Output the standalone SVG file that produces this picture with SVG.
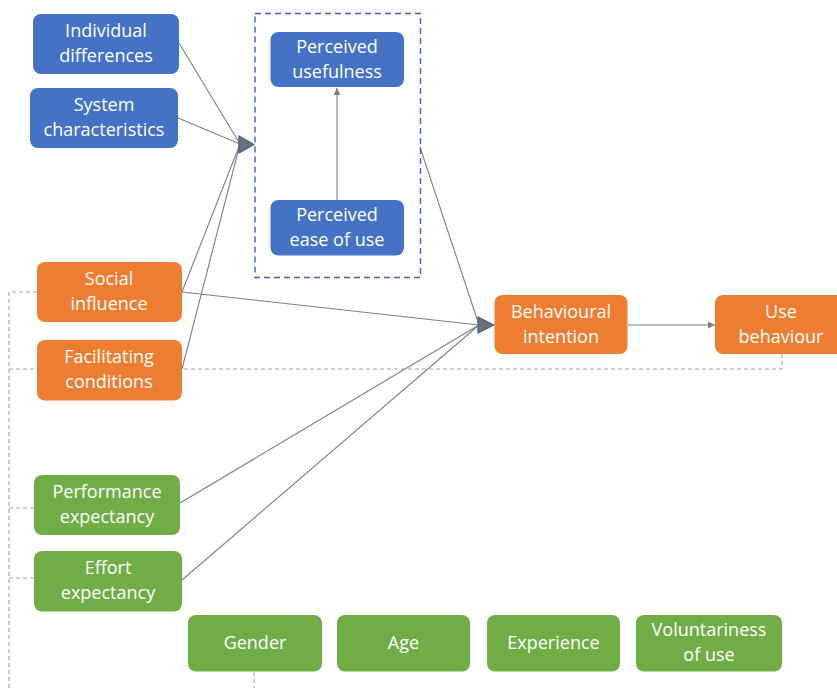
<svg xmlns="http://www.w3.org/2000/svg" width="837" height="688" viewBox="0 0 837 688">
  <defs>
    <style>
      .blue { fill: #4472c4; }
      .orange { fill: #ed7d31; }
      .green { fill: #70ad47; }
      .lbl { font-family: "Open Sans", "Noto Sans", sans-serif; font-size: 18px; fill: #ffffff; text-anchor: middle; }
      .link { stroke: #7f7f7f; stroke-width: 1.1; fill: none; }
      .mod { stroke: #a5a5a5; stroke-width: 1.1; fill: none; stroke-dasharray: 4 3; }
      .join { fill: #707070; stroke: #3f62a8; stroke-width: 1.3; stroke-linejoin: round; }
    </style>
    <marker id="arr" viewBox="0 0 10 10" refX="10" refY="5" markerWidth="7" markerHeight="7" orient="auto" markerUnits="userSpaceOnUse">
      <path d="M0,0 L10,5 L0,10 z" fill="#7f7f7f"/>
    </marker>
  </defs>

  <!-- moderator dashed lines -->
  <g id="moderators-lines">
    <polyline class="mod" points="37,292 9,292 9,688"/>
    <polyline class="mod" points="9,369 782,369 782,354"/>
    <line class="mod" x1="9" y1="508" x2="34" y2="508"/>
    <line class="mod" x1="9" y1="578" x2="34" y2="578"/>
    <line class="mod" x1="254" y1="672" x2="254" y2="688"/>
  </g>

  <!-- connectors -->
  <g id="connectors">
    <line class="link" x1="179" y1="43" x2="240" y2="144"/>
    <line class="link" x1="178" y1="118" x2="240" y2="144"/>
    <line class="link" x1="182" y1="292" x2="240" y2="144"/>
    <line class="link" x1="182" y1="369" x2="240" y2="144"/>
    <line class="link" x1="337" y1="200" x2="337" y2="88" marker-end="url(#arr)"/>
    <line class="link" x1="420" y1="147" x2="479" y2="325"/>
    <line class="link" x1="182" y1="292" x2="479" y2="325"/>
    <line class="link" x1="180" y1="503" x2="479" y2="325"/>
    <line class="link" x1="182" y1="580" x2="479" y2="325"/>
    <line class="link" x1="628" y1="325" x2="715" y2="325" marker-end="url(#arr)"/>
    <polygon class="join" points="239,136 254,144.5 239,153"/>
    <polygon class="join" points="478,317 494,325 478,333"/>
  </g>

  <!-- TAM group boundary -->
  <rect id="tam-box" x="255" y="13.5" width="165.5" height="264" fill="none" stroke="#3f62a8" stroke-width="1.4" stroke-dasharray="6 4"/>

  <g id="individual-differences">
    <rect class="blue" x="33" y="14" width="146" height="60" rx="8"/>
    <text class="lbl" x="106" y="37">Individual</text>
    <text class="lbl" x="106" y="62">differences</text>
  </g>
  <g id="system-characteristics">
    <rect class="blue" x="30" y="88" width="148" height="60" rx="8"/>
    <text class="lbl" x="104" y="111">System</text>
    <text class="lbl" x="104" y="136">characteristics</text>
  </g>
  <g id="perceived-usefulness">
    <rect class="blue" x="270.5" y="32" width="133.5" height="55" rx="8"/>
    <text class="lbl" x="337" y="53">Perceived</text>
    <text class="lbl" x="337" y="78">usefulness</text>
  </g>
  <g id="perceived-ease-of-use">
    <rect class="blue" x="270.5" y="200" width="133.5" height="55.5" rx="8"/>
    <text class="lbl" x="337" y="221">Perceived</text>
    <text class="lbl" x="337" y="246">ease of use</text>
  </g>
  <g id="social-influence">
    <rect class="orange" x="37" y="262" width="145" height="60" rx="8"/>
    <text class="lbl" x="109" y="285">Social</text>
    <text class="lbl" x="109" y="310">influence</text>
  </g>
  <g id="facilitating-conditions">
    <rect class="orange" x="37" y="340" width="145" height="60.5" rx="8"/>
    <text class="lbl" x="109" y="363">Facilitating</text>
    <text class="lbl" x="109" y="388">conditions</text>
  </g>
  <g id="behavioural-intention">
    <rect class="orange" x="494.5" y="295" width="133" height="59" rx="8"/>
    <text class="lbl" x="561" y="318">Behavioural</text>
    <text class="lbl" x="561" y="343">intention</text>
  </g>
  <g id="use-behaviour">
    <rect class="orange" x="715" y="295" width="130" height="59" rx="8"/>
    <text class="lbl" x="781" y="318">Use</text>
    <text class="lbl" x="781" y="343">behaviour</text>
  </g>
  <g id="performance-expectancy">
    <rect class="green" x="34" y="475" width="146" height="60" rx="8"/>
    <text class="lbl" x="107" y="498">Performance</text>
    <text class="lbl" x="107" y="523">expectancy</text>
  </g>
  <g id="effort-expectancy">
    <rect class="green" x="34" y="551" width="148" height="60.5" rx="8"/>
    <text class="lbl" x="108" y="574">Effort</text>
    <text class="lbl" x="108" y="599">expectancy</text>
  </g>
  <g id="gender">
    <rect class="green" x="188" y="615" width="134" height="56.5" rx="8"/>
    <text class="lbl" x="255" y="649">Gender</text>
  </g>
  <g id="age">
    <rect class="green" x="337" y="615" width="133" height="56.5" rx="8"/>
    <text class="lbl" x="403.5" y="649">Age</text>
  </g>
  <g id="experience">
    <rect class="green" x="487" y="615" width="133" height="56.5" rx="8"/>
    <text class="lbl" x="553.5" y="649">Experience</text>
  </g>
  <g id="voluntariness-of-use">
    <rect class="green" x="636" y="615" width="146" height="56.5" rx="8"/>
    <text class="lbl" x="709" y="636">Voluntariness</text>
    <text class="lbl" x="709" y="661">of use</text>
  </g>
</svg>
